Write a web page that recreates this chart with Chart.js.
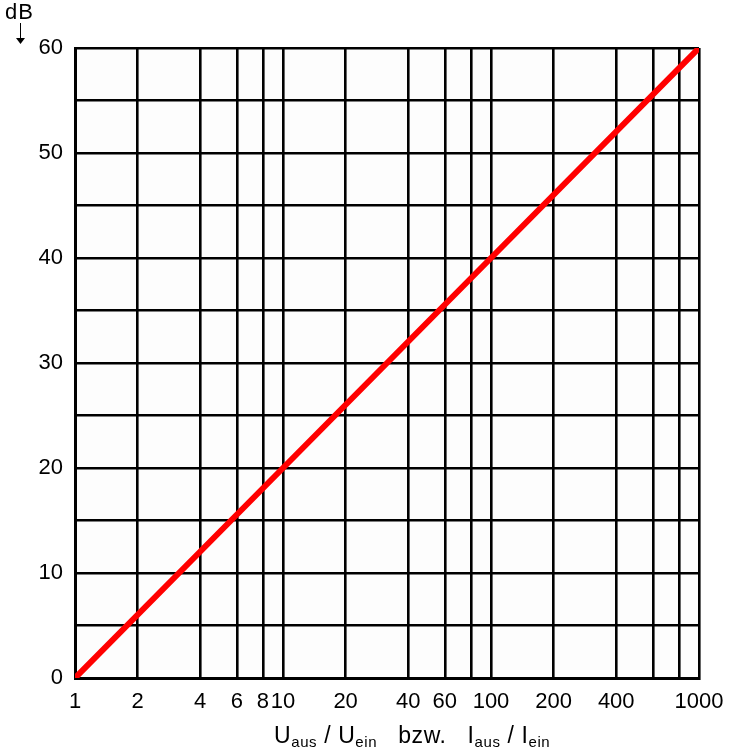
<!DOCTYPE html>
<html>
<head>
<meta charset="utf-8">
<script src="https://cdn.jsdelivr.net/npm/chart.js@4"></script>
<style>
  html, body { margin: 0; padding: 0; background: #fff; }
  #wrap { width: 735px; height: 750px; }
</style>
</head>
<body>
<div id="wrap"><canvas id="dbChart" width="735" height="750"></canvas></div>
<script>
// Data: ratio vs. dB
const ratios = [1, 10, 100, 1000];
const dbValues = [0, 20, 40, 60];
const xGridValues = [1, 2, 4, 6, 8, 10, 20, 40, 60, 80, 100, 200, 400, 600, 800, 1000];
const xTickLabels = [1, 2, 4, 6, 8, 10, 20, 40, 60, 100, 200, 400, 1000];
const yTickLabels = [0, 10, 20, 30, 40, 50, 60];

Chart.defaults.color = '#000';
Chart.defaults.font.family = 'Arial, "Liberation Sans", sans-serif';

// light plot background
const plotBg = {
    id: 'plotBg',
    beforeDraw(chart) {
        const a = chart.chartArea;
        chart.ctx.save();
        chart.ctx.fillStyle = '#fdfdfd';
        chart.ctx.fillRect(a.left, a.top, a.right - a.left, a.bottom - a.top);
        chart.ctx.restore();
    }
};

// axis title with subscripts + dB unit
const extraText = {
    id: 'extraText',
    afterDraw(chart) {
        const ctx = chart.ctx;
        ctx.save();
        ctx.fillStyle = '#000';
        ctx.strokeStyle = '#000';
        ctx.textBaseline = 'alphabetic';
        ctx.textAlign = 'left';
        ctx.letterSpacing = '0.6px';
        const big = '23px Arial, "Liberation Sans", sans-serif';
        const small = '15px Arial, "Liberation Sans", sans-serif';
        const parts = [
            ['U', big, 0], ['aus', small, 4], [' / U', big, 0], ['ein', small, 4],
            ['   bzw.   I', big, 0], ['aus', small, 4], [' / I', big, 0], ['ein', small, 4]
        ];
        let x = 274;
        parts.forEach(([t, f, dy]) => {
            ctx.font = f;
            ctx.fillText(t, x, 743 + dy);
            x += ctx.measureText(t).width;
        });
        ctx.letterSpacing = '1px';
        ctx.font = '22px Arial, "Liberation Sans", sans-serif';
        ctx.fillText('dB', 5, 19);
        ctx.letterSpacing = '0px';
        // arrow under dB
        ctx.lineWidth = 1;
        ctx.beginPath();
        ctx.moveTo(20.5, 23);
        ctx.lineTo(20.5, 41);
        ctx.stroke();
        ctx.beginPath();
        ctx.moveTo(16, 38);
        ctx.lineTo(25, 38);
        ctx.lineTo(20.5, 44);
        ctx.closePath();
        ctx.fill();
        ctx.restore();
    }
};

const ctx = document.getElementById('dbChart').getContext('2d');
const dbChart = new Chart(ctx, {
    type: 'line',
    data: {
        datasets: [{
            data: ratios.map((r, i) => ({ x: r, y: dbValues[i] })),
            borderColor: '#ff0000',
            borderWidth: 6,
            pointRadius: 0,
            tension: 0
        }]
    },
    options: {
        responsive: false,
        animation: false,
        layout: { padding: { top: 48, right: 36, left: 0, bottom: 0 } },
        scales: {
            x: {
                type: 'logarithmic',
                min: 1,
                max: 1000,
                afterBuildTicks: (scale) => {
                    scale.ticks = xGridValues.map(v => ({ value: v }));
                },
                afterFit: (scale) => { scale.height = 750 - 678; },
                grid: { color: '#000', lineWidth: 2.6, drawTicks: false },
                border: { color: '#000', width: 3 },
                ticks: {
                    padding: 11,
                    maxRotation: 0,
                    autoSkip: false,
                    font: { size: 22 },
                    callback: (v) => xTickLabels.includes(v) ? String(v) : ''
                }
            },
            y: {
                min: 0,
                max: 60,
                afterFit: (scale) => { scale.width = 75; },
                grid: { color: '#000', lineWidth: 2.6, drawTicks: false },
                border: { color: '#000', width: 3 },
                ticks: {
                    stepSize: 5,
                    padding: 12,
                    font: { size: 22 },
                    callback: (v) => yTickLabels.includes(v) ? String(v) : ''
                }
            }
        },
        plugins: {
            legend: { display: false },
            tooltip: { enabled: false }
        }
    },
    plugins: [plotBg, extraText]
});
</script>
</body>
</html>
